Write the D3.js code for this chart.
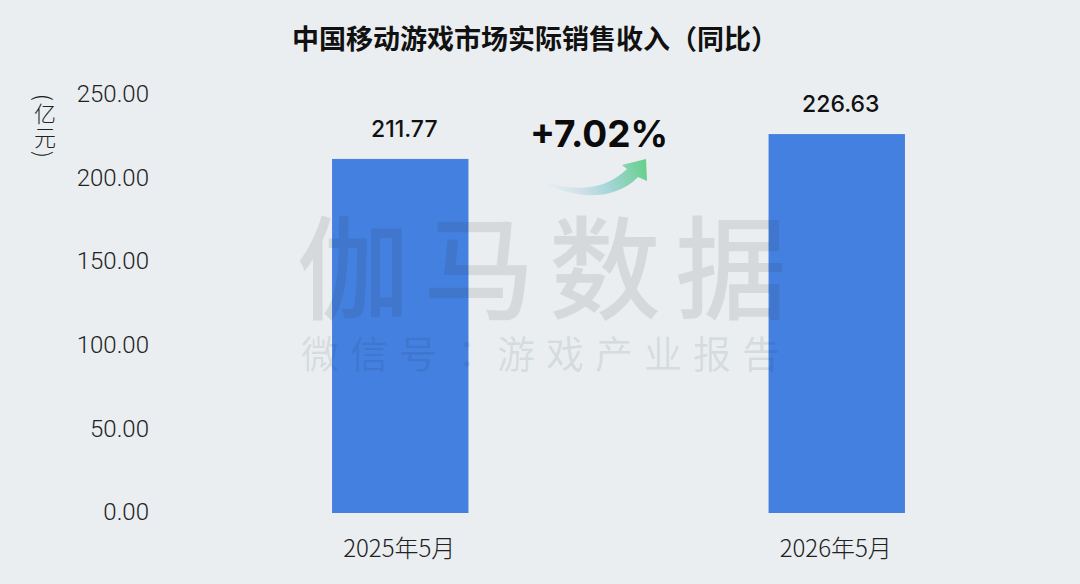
<!DOCTYPE html>
<html>
<head>
<meta charset="utf-8">
<script src="https://cdn.jsdelivr.net/npm/d3@7"></script>
<style>
  html, body { margin: 0; padding: 0; background: #eaeef1; }
  svg { display: block; }
  text { font-family: "Noto Sans CJK SC", sans-serif; }
</style>
</head>
<body>
<svg id="chart" width="1080" height="584"></svg>
<script>
var months = ["2025年5月", "2026年5月"];
var revenue = [211.77, 226.63];
var yTicks = [0, 50, 100, 150, 200, 250];
var growthLabel = "+7.02%";

var svg = d3.select("#chart");

// gradient for the growth arrow
var grad = svg.append("defs").append("linearGradient")
    .attr("id", "arrowGrad")
    .attr("gradientUnits", "userSpaceOnUse")
    .attr("x1", 545).attr("y1", 190).attr("x2", 645).attr("y2", 162);
grad.append("stop").attr("offset", 0).attr("stop-color", "#eaeef1");
grad.append("stop").attr("offset", 0.3).attr("stop-color", "#d3e2ea");
grad.append("stop").attr("offset", 0.6).attr("stop-color", "#a5d6d8");
grad.append("stop").attr("offset", 1).attr("stop-color", "#68cf8c");

var x = d3.scaleBand().domain(months).range([182, 1055]).paddingInner(0.6875).paddingOuter(0.34375);
var y = d3.scaleLinear().domain([0, 250]).range([513, 95]);

svg.append("text")
    .attr("x", 535).attr("y", 42)
    .attr("text-anchor", "middle").attr("dominant-baseline", "middle")
    .attr("font-size", 27).attr("font-weight", 700).attr("fill", "#111")
    .text("中国移动游戏市场实际销售收入（同比）");

// y axis
var yAxis = svg.append("g")
    .attr("transform", "translate(149,-1)")
    .call(d3.axisLeft(y).tickValues(yTicks).tickSize(0).tickPadding(0).tickFormat(d3.format(".2f")));
yAxis.select(".domain").remove();
yAxis.selectAll("text")
    .attr("font-size", 24).attr("fill", "#222")
    .style("font-family", "Roboto, sans-serif").style("font-weight", 300);

svg.append("text")
    .attr("x", 45).attr("y", 127)
    .attr("text-anchor", "middle")
    .style("writing-mode", "vertical-rl")
    .attr("font-size", 22).attr("letter-spacing", 2).attr("font-weight", 300).attr("fill", "#222")
    .text("(亿元)");

// bars
svg.selectAll("rect.bar").data(revenue).join("rect")
    .attr("class", "bar")
    .attr("x", function (d, i) { return x(months[i]); })
    .attr("width", x.bandwidth())
    .attr("y", function (d) { return y(d); })
    .attr("height", function (d) { return y(0) - y(d); })
    .attr("fill", "#4480e0");

svg.selectAll("text.val").data(revenue).join("text")
    .attr("class", "val")
    .attr("x", function (d, i) { return x(months[i]) + x.bandwidth() / 2 + 4; })
    .attr("y", function (d) { return y(d) - 28; })
    .attr("text-anchor", "middle").attr("dominant-baseline", "middle")
    .attr("font-size", 23).attr("font-weight", 500).attr("fill", "#111")
    .style("font-family", "Inter, sans-serif")
    .text(function (d) { return d.toFixed(2); });

svg.selectAll("text.cat").data(months).join("text")
    .attr("class", "cat")
    .attr("x", function (d) { return x(d) + x.bandwidth() / 2 - 1; })
    .attr("y", 550)
    .attr("text-anchor", "middle").attr("dominant-baseline", "middle")
    .attr("font-size", 24).attr("font-weight", 300).attr("fill", "#222")
    .text(function (d) { return d; });

// growth callout
svg.append("text")
    .attr("x", 599).attr("y", 137)
    .attr("text-anchor", "middle").attr("dominant-baseline", "middle")
    .attr("font-size", 37).attr("font-weight", 700).attr("fill", "#0b0b0b")
    .style("font-family", "Inter, sans-serif")
    .text(growthLabel);

svg.append("path")
    .attr("d", "M543,182 C572,190 602,193 627,169 L622,165 L646,159 L647,181 L638,177 C615,201 575,200 543,182 Z")
    .attr("fill", "url(#arrowGrad)");

// watermark sits over everything
var mark = svg.append("g").attr("fill", "#1a2a2a").attr("fill-opacity", 0.1).attr("text-anchor", "middle");
mark.append("text")
    .attr("x", 549).attr("y", 281).attr("dominant-baseline", "middle")
    .attr("font-size", 112).attr("letter-spacing", 14).attr("font-weight", 500)
    .text("伽马数据");
var sub = mark.append("text")
    .attr("x", 546).attr("y", 358).attr("dominant-baseline", "middle")
    .attr("font-size", 38).attr("letter-spacing", 11).attr("font-weight", 400);
sub.append("tspan").text("微信号");
sub.append("tspan").style("font-family", "'Noto Sans CJK TC'").text("：");
sub.append("tspan").text("游戏产业报告");
</script>
</body>
</html>
